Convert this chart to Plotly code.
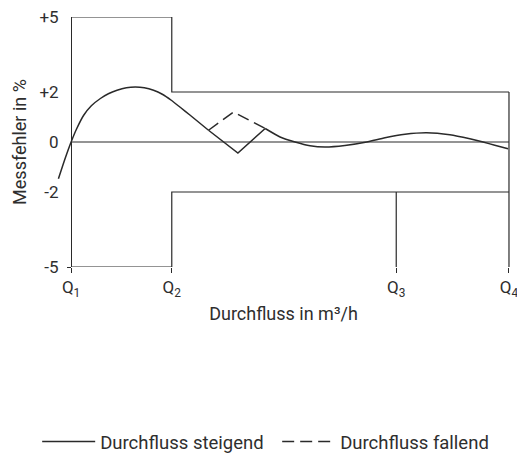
import plotly.graph_objects as go

# ---------------- data ----------------
q_labels = ["Q<sub>1</sub>", "Q<sub>2</sub>", "Q<sub>3</sub>", "Q<sub>4</sub>"]
q_pos = [0.0, 1.0, 3.23, 4.35]

y_tick_vals = [-5, -2, 0, 2, 5]
y_tick_text = ["-5", "-2", "0", "+2", "+5"]

# maximum permissible error limits (upper / lower)
upper_x = [q_pos[0], q_pos[1], q_pos[1], q_pos[3]]
upper_y = [5, 5, 2, 2]
lower_x = [q_pos[0], q_pos[1], q_pos[1], q_pos[3]]
lower_y = [-5, -5, -2, -2]

# vertical marker lines at Q3 and Q4
q3_line_x = [q_pos[2], q_pos[2]]
q3_line_y = [-2, -5]
q4_line_x = [q_pos[3], q_pos[3]]
q4_line_y = [2, -5]

# zero reference line
zero_x = [q_pos[0], q_pos[3]]
zero_y = [0, 0]

# error curve, rising flow (Durchfluss steigend)
rising_x = [-0.126, -0.062, 0.0, 0.053, 0.125, 0.201, 0.291, 0.37, 0.456, 0.549,
            0.638, 0.727, 0.819, 0.906, 0.995, 1.084, 1.183, 1.365,
            1.657,
            1.928, 2.076, 2.225, 2.374, 2.522, 2.72, 2.937, 3.118, 3.317, 3.532,
            3.763, 3.961, 4.093, 4.209, 4.341]
rising_y = [-1.47, -0.69, 0.0, 0.51, 1.07, 1.45, 1.74, 1.93, 2.07, 2.17,
            2.2, 2.17, 2.07, 1.91, 1.67, 1.39, 1.07, 0.47,
            -0.44,
            0.54, 0.2, 0.0, -0.15, -0.2, -0.14, 0.0, 0.17, 0.31, 0.37,
            0.29, 0.13, 0.0, -0.13, -0.27]

# error curve, falling flow (Durchfluss fallend) - deviating part only
falling_x = [1.365, 1.613, 1.928]
falling_y = [0.47, 1.2, 0.54]

# ---------------- styling ----------------
LINE = "#2a2a2a"
TEXT = "#2e2e2e"
FONT = "Roboto"

fig = go.Figure()

for xs, ys in [(upper_x, upper_y), (lower_x, lower_y), (q3_line_x, q3_line_y),
               (q4_line_x, q4_line_y), (zero_x, zero_y)]:
    fig.add_trace(go.Scatter(x=xs, y=ys, mode="lines", showlegend=False,
                             hoverinfo="skip",
                             line=dict(color=LINE, width=1.2)))

# rising curve: smooth part, sharp zig-zag, smooth part
c1, c2 = 17, 19
fig.add_trace(go.Scatter(x=rising_x[:c1 + 1], y=rising_y[:c1 + 1], mode="lines",
                         name="Durchfluss steigend", legendgroup="r",
                         line=dict(color=LINE, width=1.5, shape="spline", smoothing=0.5)))
fig.add_trace(go.Scatter(x=rising_x[c1:c2 + 1], y=rising_y[c1:c2 + 1], mode="lines",
                         name="Durchfluss steigend", legendgroup="r", showlegend=False,
                         line=dict(color=LINE, width=1.5)))
fig.add_trace(go.Scatter(x=rising_x[c2:], y=rising_y[c2:], mode="lines",
                         name="Durchfluss steigend", legendgroup="r", showlegend=False,
                         line=dict(color=LINE, width=1.5, shape="spline", smoothing=0.5)))

fig.add_trace(go.Scatter(x=falling_x, y=falling_y, mode="lines",
                         name="Durchfluss fallend",
                         line=dict(color=LINE, width=1.5, dash="12px,6px")))

x_range = [-0.16, 4.38]
y_axis_pos = (q_pos[0] - x_range[0]) / (x_range[1] - x_range[0])

fig.update_layout(
    width=517, height=459,
    margin=dict(l=55, r=5, t=17, b=192, autoexpand=False),
    paper_bgcolor="white", plot_bgcolor="white",
    font=dict(family=FONT, size=17, color=TEXT),
    xaxis=dict(range=x_range, tickmode="array", tickvals=q_pos, ticktext=q_labels,
               ticks="outside", ticklen=5, tickwidth=1.2, tickcolor=LINE,
               showline=False, showgrid=False, zeroline=False, automargin=False,
               ticklabeloverflow="allow",
               tickfont=dict(size=17),
               title=dict(text="Durchfluss in m³/h", font=dict(size=18), standoff=8)),
    yaxis=dict(range=[-5, 5], anchor="free", position=y_axis_pos, automargin=False,
               tickmode="array", tickvals=y_tick_vals, ticktext=y_tick_text,
               ticks="", showline=True, linecolor=LINE, linewidth=1.2,
               showgrid=False, zeroline=False, ticklabelstandoff=9,
               ticklabeloverflow="allow",
               tickfont=dict(size=17),
               minor=dict(tickmode="array", tickvals=[-5], ticks="outside",
                          ticklen=4, tickcolor=LINE, tickwidth=1.2, showgrid=False),
               title=dict(text="Messfehler in %", font=dict(size=18), standoff=7)),
    legend=dict(orientation="h", x=-0.039, xanchor="left", y=-0.70, yanchor="middle",
                font=dict(size=18.5), itemwidth=53, entrywidth=172),
    showlegend=True,
)

fig.write_html("out.html", config={"displayModeBar": False},
               post_script="document.body.style.margin='0';")
